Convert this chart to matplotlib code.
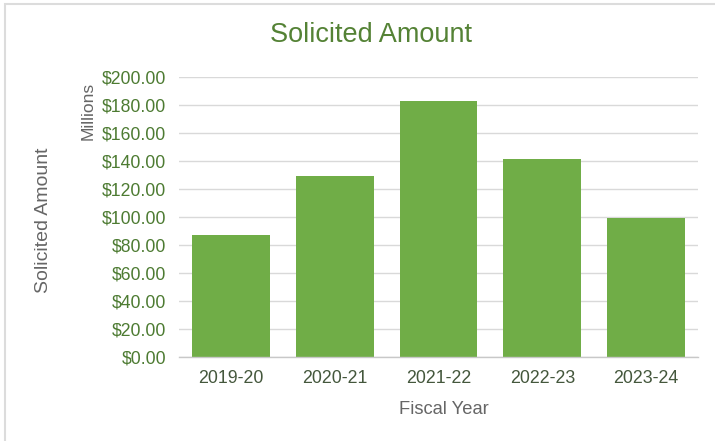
import matplotlib
matplotlib.use("Agg")
import matplotlib.pyplot as plt
from matplotlib.patches import Rectangle
from matplotlib.ticker import FuncFormatter, MultipleLocator

# Solicited amount per fiscal year, in millions of dollars
fiscal_years = ["2019-20", "2020-21", "2021-22", "2022-23", "2023-24"]
solicited_millions = [87, 129, 183, 141, 99]

bar_color = "#70ad47"
title_color = "#548235"
ytick_color = "#4d7b32"
xtick_color = "#44573c"
label_color = "#666666"
grid_color = "#d9d9d9"

plt.rcParams["font.family"] = ["Liberation Sans", "DejaVu Sans"]

fig = plt.figure(figsize=(7.15, 4.41), dpi=100)
W, H = 715, 441

# left, bottom, width, height in pixels -> figure fraction
ax = fig.add_axes([179 / W, 1 - 357.3 / H, (698 - 179) / W, (357.3 - 76.7) / H])

x = range(len(fiscal_years))
ax.bar(x, solicited_millions, width=0.75, color=bar_color, zorder=2)

ax.set_xlim(-0.5, len(fiscal_years) - 0.5)
ax.set_ylim(0, 200)
ax.yaxis.set_major_locator(MultipleLocator(20))
ax.yaxis.set_major_formatter(FuncFormatter(lambda v, p: f"${v:,.2f}"))
ax.set_xticks(list(x))
ax.set_xticklabels(fiscal_years)

ax.grid(axis="y", color=grid_color, linewidth=1.0, zorder=0)
ax.set_axisbelow(True)
for side in ["top", "right", "left"]:
    ax.spines[side].set_visible(False)
ax.spines["bottom"].set_color("#c8c8c8")
ax.spines["bottom"].set_linewidth(1.0)

ax.tick_params(axis="y", length=0, pad=9, labelsize=12.7, labelcolor=ytick_color)
ax.tick_params(axis="x", length=0, pad=9, labelsize=12.8, labelcolor=xtick_color)

# titles and axis labels placed in pixel positions
fig.text(370.5 / W, 1 - 35 / H, "Solicited Amount", ha="center", va="center",
         fontsize=19.5, color=title_color)
fig.text(44 / W, 1 - 220 / H, "Solicited Amount", ha="center", va="center",
         rotation=90, fontsize=14, color=label_color)
fig.text(88 / W, 1 - 111 / H, "Millions", ha="center", va="center",
         rotation=90, fontsize=12.5, color=label_color)
fig.text(444 / W, 1 - 409 / H, "Fiscal Year", ha="center", va="center",
         fontsize=13.2, color=label_color)

# light frame around the chart area
fig.patches.append(Rectangle((5 / W, -0.1), 1.2, 1 - 4 / H + 0.1,
                             transform=fig.transFigure, fill=False,
                             edgecolor="#dcdcdc", linewidth=1.5))

fig.savefig("out.png", dpi=100)
